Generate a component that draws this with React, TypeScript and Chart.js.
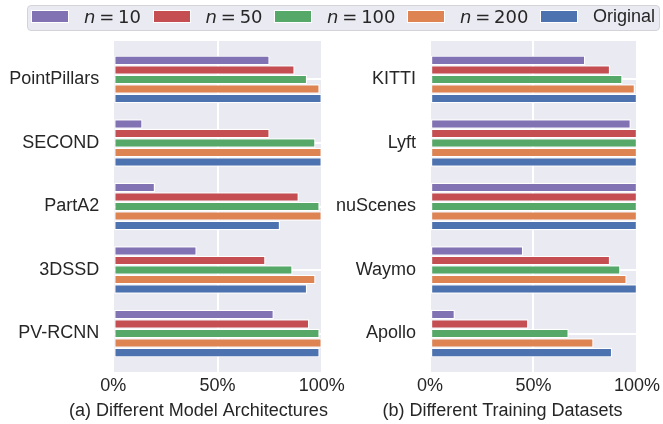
import React, { useEffect, useRef } from 'react';
import { Chart, registerables } from 'chart.js';

Chart.register(...registerables);

// ---- data ----
const seriesNames = ['n10', 'n50', 'n100', 'n200', 'Original'];
const seriesColors = ['#8172B3', '#C44E52', '#55A868', '#DD8452', '#4C72B0'];

const modelCategories = ['PointPillars', 'SECOND', 'PartA2', '3DSSD', 'PV-RCNN'];
const modelN10 = [75, 14, 20, 40, 77];
const modelN50 = [87, 75, 89, 73, 94];
const modelN100 = [93, 97, 99, 86, 99];
const modelN200 = [99, 100, 100, 97, 100];
const modelOriginal = [100, 100, 80, 93, 99];

const datasetCategories = ['KITTI', 'Lyft', 'nuScenes', 'Waymo', 'Apollo'];
const datasetN10 = [75, 97, 100, 45, 12];
const datasetN50 = [87, 100, 100, 87, 47.5];
const datasetN100 = [93, 100, 100, 92, 67];
const datasetN200 = [99, 100, 100, 95, 79];
const datasetOriginal = [100, 100, 100, 100, 88];

const xTickValues = [0, 50, 100];
const legendNs = ['10', '50', '100', '200'];

const FONT = '"Liberation Sans", Arial, sans-serif';
const TEXT = '#262626';
const FACE = '#EAEAF2';

const bgPlugin = {
  id: 'facebg',
  beforeDraw(chart: any) {
    const { ctx, chartArea } = chart;
    ctx.save();
    ctx.fillStyle = FACE;
    ctx.fillRect(chartArea.left, chartArea.top, chartArea.right - chartArea.left, chartArea.bottom - chartArea.top);
    ctx.restore();
  },
};

const xlabelPlugin = {
  id: 'xlabel',
  afterDraw(chart: any, _args: any, opts: any) {
    const { ctx } = chart;
    ctx.save();
    ctx.font = `18px ${FONT}`;
    ctx.fillStyle = TEXT;
    ctx.textAlign = 'center';
    ctx.textBaseline = 'middle';
    ctx.fillText(opts.text, opts.x, opts.y);
    ctx.restore();
  },
};

type PanelProps = {
  canvasLeft: number;
  canvasWidth: number;
  yAxisWidth: number;
  rightPad: number;
  categories: string[];
  series: number[][];
  xlabel: string;
  xlabelCenter: number;
};

function Panel({ canvasLeft, canvasWidth, yAxisWidth, rightPad, categories, series, xlabel, xlabelCenter }: PanelProps) {
  const ref = useRef<HTMLCanvasElement | null>(null);
  useEffect(() => {
    if (!ref.current) return;
    const chart = new Chart(ref.current, {
      type: 'bar',
      data: {
        datasets: series.map((vals, si) => ({
          label: seriesNames[si],
          data: vals.map((v, i) => ({ x: v, y: i })),
          backgroundColor: seriesColors[si],
          borderColor: '#ffffff',
          borderWidth: 1.2,
          borderSkipped: false,
          categoryPercentage: 0.75,
          barPercentage: 1,
        })),
      },
      options: {
        indexAxis: 'y',
        animation: false,
        responsive: false,
        maintainAspectRatio: false,
        layout: { padding: { top: 41, right: rightPad, bottom: 0, left: 0 } },
        plugins: {
          legend: { display: false },
          tooltip: { enabled: false },
          xlabel: { text: xlabel, x: xlabelCenter - canvasLeft, y: 411 },
        },
        scales: {
          x: {
            type: 'linear',
            position: 'bottom',
            min: 0,
            max: 100,
            offset: false,
            border: { display: false },
            grid: { color: '#ffffff', lineWidth: 2, drawTicks: false, offset: false },
            afterBuildTicks: (s: any) => {
              s.ticks = xTickValues.map((v) => ({ value: v }));
            },
            ticks: {
              padding: 3,
              color: TEXT,
              font: { family: FONT, size: 18 },
              maxRotation: 0,
              callback: (v: any) => v + '%',
            },
            afterFit: (s: any) => {
              s.height = 52;
            },
          },
          y: {
            type: 'linear',
            min: -0.606,
            max: 4.606,
            reverse: true,
            offset: false,
            border: { display: false },
            grid: { color: '#ffffff', lineWidth: 2, drawTicks: false, offset: false },
            afterBuildTicks: (s: any) => {
              s.ticks = categories.map((_, i) => ({ value: i }));
            },
            ticks: {
              padding: 14,
              color: TEXT,
              font: { family: FONT, size: 18 },
              callback: (v: any) => categories[v] ?? '',
            },
            afterFit: (s: any) => {
              s.width = yAxisWidth;
            },
          },
        },
      },
      plugins: [bgPlugin, xlabelPlugin],
    } as any);
    return () => chart.destroy();
  }, []);
  return (
    <canvas
      ref={ref}
      width={canvasWidth}
      height={424}
      style={{ position: 'absolute', left: canvasLeft, top: 0, width: canvasWidth, height: 424 }}
    />
  );
}

function Legend() {
  const items = [
    ...legendNs.map((n, i) => ({
      color: seriesColors[i],
      node: (
        <span style={{ fontFamily: '"DejaVu Sans", sans-serif' }}>
          <i>n</i>
          <span style={{ margin: '0 3.8px' }}>=</span>
          {n}
        </span>
      ),
    })),
    { color: seriesColors[4], node: <span style={{ fontFamily: FONT }}>Original</span> },
  ];
  return (
    <div
      style={{
        position: 'absolute',
        left: 27,
        top: 5,
        width: 633,
        height: 26,
        boxSizing: 'border-box',
        background: FACE,
        border: '1px solid #d4d4d8',
        borderRadius: 4,
      }}
    >
      <div
        style={{
          display: 'flex',
          alignItems: 'center',
          height: 21,
          paddingLeft: 4,
          fontSize: 18,
          color: TEXT,
          whiteSpace: 'nowrap',
          lineHeight: '21px',
        }}
      >
        {items.map((it, i) => (
          <div key={i} style={{ display: 'flex', alignItems: 'center', marginRight: 12.5 }}>
            <div
              style={{
                width: 36,
                height: 10.5,
                background: it.color,
                boxShadow: '0 0 0 1px #ffffff',
                marginRight: 16,
              }}
            />
            {it.node}
          </div>
        ))}
      </div>
    </div>
  );
}

export default function App() {
  return (
    <div style={{ position: 'absolute', left: 0, top: 0, width: 663, height: 424, background: '#ffffff' }}>
      <Panel
        canvasLeft={0}
        canvasWidth={360}
        yAxisWidth={113.3}
        rightPad={38.3}
        categories={modelCategories}
        series={[modelN10, modelN50, modelN100, modelN200, modelOriginal]}
        xlabel="(a) Different Model Architectures"
        xlabelCenter={198.5}
      />
      <Panel
        canvasLeft={330}
        canvasWidth={333}
        yAxisWidth={100}
        rightPad={24.7}
        categories={datasetCategories}
        series={[datasetN10, datasetN50, datasetN100, datasetN200, datasetOriginal]}
        xlabel="(b) Different Training Datasets"
        xlabelCenter={502.5}
      />
      <Legend />
    </div>
  );
}
